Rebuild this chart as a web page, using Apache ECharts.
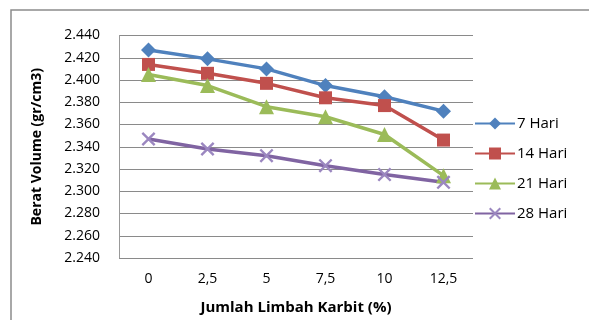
<!DOCTYPE html>
<html><head><meta charset="utf-8">
<script src="https://cdn.jsdelivr.net/npm/echarts@6/dist/echarts.min.js"></script>
<style>html,body{margin:0;padding:0;background:#fff}#c{width:589px;height:320px}</style>
</head><body><div id="c"></div>
<script>
const categories = ['0','2,5','5','7,5','10','12,5'];
const seriesNames = ['7 Hari','14 Hari','21 Hari','28 Hari'];
const hari7  = [2.427, 2.419, 2.410, 2.395, 2.385, 2.372];
const hari14 = [2.414, 2.406, 2.397, 2.384, 2.377, 2.346];
const hari21 = [2.405, 2.395, 2.376, 2.367, 2.351, 2.314];
const hari28 = [2.347, 2.338, 2.332, 2.323, 2.315, 2.308];
const yMin = 2.24, yMax = 2.44, yStep = 0.02;

const colors = ['#4F81BD','#C0504D','#9BBB59','#8064A2'];
const xPath = 'path://M0,1.2 L1.2,0 L5,3.8 L8.8,0 L10,1.2 L6.2,5 L10,8.8 L8.8,10 L5,6.2 L1.2,10 L0,8.8 L3.8,5 Z';
const symbols = ['diamond','rect','triangle', xPath];
const sizes = [15, 13, 15, 14];
const data = [hari7, hari14, hari21, hari28];
const font = '"Open Sans", "DejaVu Sans", sans-serif';

const chart = echarts.init(document.getElementById('c'));
chart.setOption({
  animation: false,
  textStyle: {fontFamily: font},
  graphic: [{type:'rect', shape:{x:11, y:10, width:700, height:400}, style:{fill:'none', stroke:'#8c8c8c', lineWidth:1.5}, silent:true}],
  grid: {left:119, top:35.5, width:354, height:222.5},
  legend: {
    orient:'vertical', left:469, top:111, itemGap:15, itemWidth:40, itemHeight:15,
    data: seriesNames,
    textStyle:{fontSize:15, color:'#000', fontFamily: font, padding:[0,0,0,-3]}
  },
  xAxis: {
    type:'category', data: categories, boundaryGap:true,
    axisLine:{show:false}, axisTick:{show:false},
    axisLabel:{fontSize:14, color:'#000', margin:14},
    name:'Jumlah Limbah Karbit (%)', nameLocation:'middle', nameGap:42,
    nameTextStyle:{fontSize:15, fontWeight:'bold', color:'#000'}
  },
  yAxis: {
    type:'value', min:yMin, max:yMax, interval:yStep,
    axisLine:{show:true, lineStyle:{color:'#999', width:1}}, axisTick:{show:false},
    splitLine:{lineStyle:{color:'#8a8a8a', width:1}},
    axisLabel:{fontSize:14, color:'#000', margin:19, formatter:v=>v.toFixed(3)},
    name:'Berat Volume (gr/cm3)', nameLocation:'middle', nameGap:75,
    nameTextStyle:{fontSize:14, fontWeight:'bold', color:'#000'}
  },
  series: data.map((d,i)=>({
    name: seriesNames[i], type:'line', data:d,
    symbol: symbols[i], symbolSize: sizes[i],
    lineStyle:{color:colors[i], width:3.5},
    itemStyle:{color: i===3 ? '#9b87c0' : colors[i]},
    color: colors[i]
  }))
});
</script></body></html>
